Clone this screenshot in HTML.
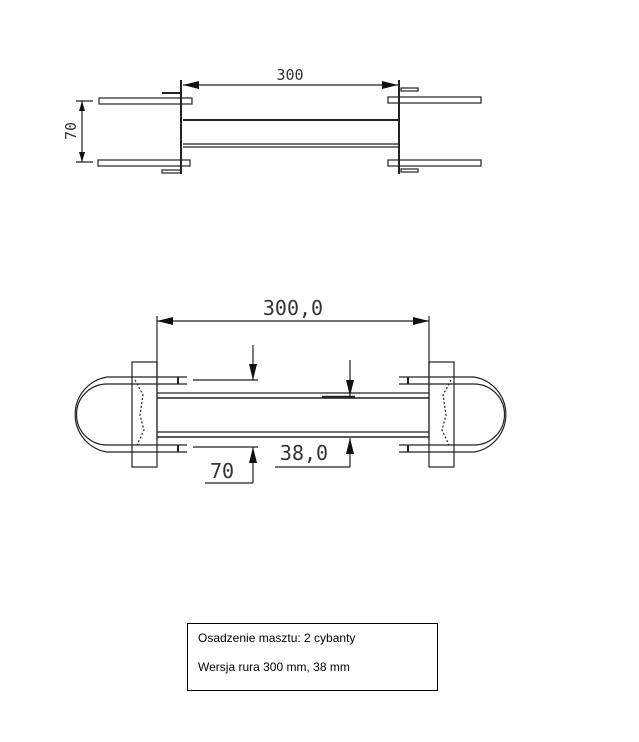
<!DOCTYPE html>
<html><head><meta charset="utf-8"><style>
body{margin:0;background:#fff;width:639px;height:742px;overflow:hidden}
svg{position:absolute;left:0;top:0}
.t{font-family:"DejaVu Sans Mono","Liberation Mono",monospace;fill:#333}
</style></head><body>
<svg width="639" height="742" viewBox="0 0 639 742" fill="none" stroke="#222" stroke-width="1.2">
<defs>
<marker id="a" viewBox="0 0 10 6" refX="10" refY="3" markerWidth="10" markerHeight="6" orient="auto-start-reverse" markerUnits="userSpaceOnUse"><path d="M0,0 L10,3 L0,6z" fill="#111" stroke="none"/></marker>
<marker id="b" viewBox="0 0 16 8" refX="16" refY="4" markerWidth="16" markerHeight="8" orient="auto-start-reverse" markerUnits="userSpaceOnUse"><path d="M0,0 L16,4 L0,8z" fill="#111" stroke="none"/></marker>
</defs>
<!-- TOP VIEW -->
<line x1="183" y1="85" x2="398" y2="85" marker-start="url(#b)" marker-end="url(#b)"/>
<text x="290" y="80" class="t" font-size="15" text-anchor="middle" stroke="none">300</text>
<line x1="181" y1="80" x2="181" y2="174" stroke-width="2"/>
<line x1="399" y1="80" x2="399" y2="174" stroke-width="2"/>
<line x1="162" y1="93" x2="181" y2="93" stroke-width="2"/>
<rect x="401" y="88" width="17" height="3"/>
<rect x="162" y="170" width="19" height="3"/>
<rect x="401" y="169" width="17" height="3"/>
<rect x="99" y="98" width="93" height="6"/>
<rect x="98" y="160" width="92" height="6"/>
<rect x="388" y="97" width="93" height="6"/>
<rect x="388" y="160" width="93" height="6"/>
<line x1="183" y1="120" x2="398" y2="120" stroke-width="2"/>
<line x1="183" y1="144" x2="398" y2="144"/>
<line x1="183" y1="147" x2="398" y2="147"/>
<line x1="76" y1="101" x2="93" y2="101"/>
<line x1="76" y1="162" x2="93" y2="162"/>
<line x1="82" y1="101" x2="82" y2="162" marker-start="url(#a)" marker-end="url(#a)"/>
<text x="0" y="0" class="t" font-size="15" text-anchor="middle" stroke="none" transform="translate(76,131) rotate(-90)">70</text>
<!-- BOTTOM VIEW -->
<line x1="157" y1="321" x2="429" y2="321" marker-start="url(#b)" marker-end="url(#b)"/>
<text x="293" y="315" class="t" font-size="20" text-anchor="middle" stroke="none">300,0</text>
<line x1="157" y1="316" x2="157" y2="440"/>
<line x1="429" y1="316" x2="429" y2="440"/>
<rect x="132" y="362" width="25" height="105"/>
<rect x="429" y="362" width="25" height="105"/>
<path d="M187,377 H107 A38,38 0 0 0 107,452 H187"/>
<path d="M187,384 H107 A30.5,30.5 0 0 0 107,445 H187"/>
<path d="M399,377 H474 A38,38 0 0 1 474,452 H399"/>
<path d="M399,384 H474 A30.5,30.5 0 0 1 474,445 H399"/>
<path d="M135,380 l8,15 -3,20 4,15 -7,15" stroke-dasharray="2,2"/>
<path d="M451,380 l-8,15 3,20 -4,15 7,15" stroke-dasharray="2,2"/>
<line x1="178" y1="377" x2="178" y2="384" stroke-width="2"/>
<line x1="178" y1="445" x2="178" y2="452" stroke-width="2"/>
<line x1="408" y1="377" x2="408" y2="384" stroke-width="2"/>
<line x1="408" y1="445" x2="408" y2="452" stroke-width="2"/>
<line x1="157" y1="393" x2="429" y2="393"/>
<line x1="157" y1="398" x2="429" y2="398" stroke-width="1.6"/>
<line x1="157" y1="432" x2="429" y2="432"/>
<line x1="157" y1="437" x2="429" y2="437" stroke-width="1.6"/>
<line x1="322" y1="397" x2="355" y2="397" stroke-width="2.5"/>
<line x1="193" y1="380" x2="258" y2="380"/>
<line x1="253" y1="345" x2="253" y2="380" marker-end="url(#b)"/>
<line x1="350" y1="360" x2="350" y2="396" marker-end="url(#b)"/>
<line x1="193" y1="447" x2="258" y2="447"/>
<line x1="253" y1="483" x2="253" y2="447" marker-end="url(#b)"/>
<line x1="205" y1="483" x2="253" y2="483"/>
<text x="222" y="478" class="t" font-size="20" text-anchor="middle" stroke="none">70</text>
<line x1="275" y1="467" x2="350" y2="467"/>
<line x1="350" y1="467" x2="350" y2="438" marker-end="url(#b)"/>
<text x="304" y="460" class="t" font-size="20" text-anchor="middle" stroke="none">38,0</text>
<!-- caption -->
<rect x="187.5" y="623.5" width="250" height="67" stroke="#000" stroke-width="1"/>
<text x="198" y="642" font-family="Liberation Sans, sans-serif" font-size="12" fill="#000" stroke="none">Osadzenie masztu: 2 cybanty</text>
<text x="198" y="671" font-family="Liberation Sans, sans-serif" font-size="12" fill="#000" stroke="none">Wersja rura 300 mm, 38 mm</text>
</svg>
</body></html>
